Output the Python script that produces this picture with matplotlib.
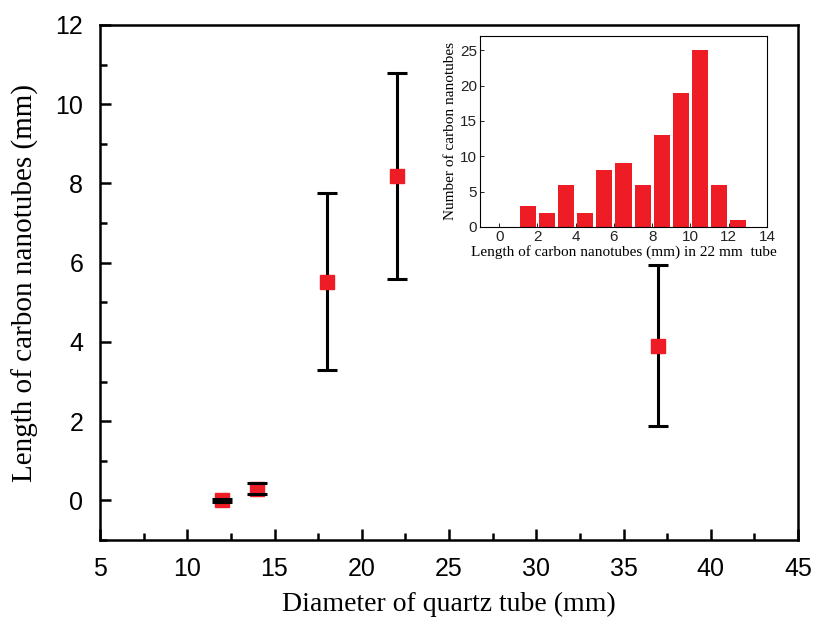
import numpy as np
import matplotlib.pyplot as plt
from matplotlib.ticker import MultipleLocator

# main data: diameter of quartz tube vs CNT length
diameter = [12, 14, 18, 22, 37]
length = [0.0, 0.3, 5.52, 8.19, 3.9]
err = [0.04, 0.14, 2.23, 2.6, 2.03]

# inset histogram (22 mm tube)
bin_center = [1.5, 2.5, 3.5, 4.5, 5.5, 6.5, 7.5, 8.5, 9.5, 10.5, 11.5, 12.5]
counts = [3, 2, 6, 2, 8, 9, 6, 13, 19, 25, 6, 1]

serif = "Liberation Serif"
sans = "Liberation Sans"
red = "#ee1c25"

fig = plt.figure(figsize=(8.15, 6.29), dpi=100)
ax = fig.add_axes([100/815, 1-540/629, 698/815, 515/629])

eb = ax.errorbar(diameter, length, yerr=err, fmt="none", ecolor="black",
                 elinewidth=2.2, capsize=7, capthick=2.2, zorder=2)
for cap in eb[1]:
    cap.set_zorder(4)
ax.plot(diameter, length, "s", color=red, markersize=10, zorder=3)

ax.set_xlim(5, 45)
ax.set_ylim(-1, 12)
ax.xaxis.set_major_locator(MultipleLocator(5))
ax.xaxis.set_minor_locator(MultipleLocator(2.5))
ax.yaxis.set_major_locator(MultipleLocator(2))
ax.yaxis.set_minor_locator(MultipleLocator(1))
ax.tick_params(which="both", direction="in", top=False, right=False, width=1.8)
ax.tick_params(which="major", length=8, pad=12)
ax.tick_params(which="minor", length=5)
for lab in ax.get_xticklabels() + ax.get_yticklabels():
    lab.set_fontfamily(sans)
    lab.set_fontsize(18)
for s in ax.spines.values():
    s.set_linewidth(1.8)
ax.set_xlabel("Diameter of quartz tube (mm)", fontfamily=serif, fontsize=20, labelpad=8)
ax.set_ylabel("Length of carbon nanotubes (mm)", fontfamily=serif, fontsize=21, labelpad=12)

# inset
ins = fig.add_axes([480/815, 1-227/629, 287/815, 191/629])
ins.bar(bin_center, counts, width=0.85, color=red, edgecolor="none")
ins.set_xlim(-1, 14)
ins.set_ylim(0, 27)
ins.xaxis.set_major_locator(MultipleLocator(2))
ins.yaxis.set_major_locator(MultipleLocator(5))
ins.tick_params(direction="in", length=3, width=0.6, pad=2, labelsize=11)
for lab in ins.get_xticklabels() + ins.get_yticklabels():
    lab.set_fontfamily(sans)
    lab.set_color("#222222")
for s in ins.spines.values():
    s.set_linewidth(0.8)
ins.set_xlabel("Length of carbon nanotubes (mm) in 22 mm  tube", fontfamily=serif, fontsize=11, labelpad=1)
ins.set_ylabel("Number of carbon nanotubes", fontfamily=serif, fontsize=11, labelpad=2)

plt.savefig("out.png", dpi=100)
